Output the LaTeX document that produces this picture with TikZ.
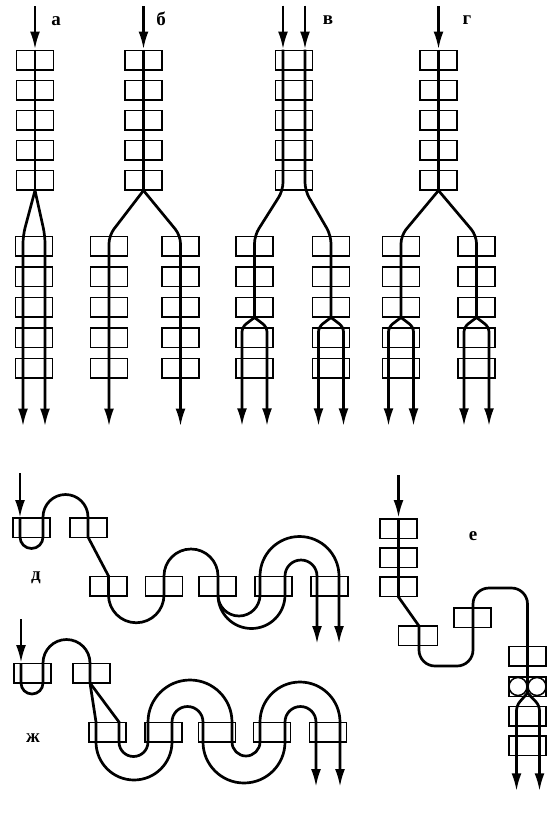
\documentclass[tikz,border=0pt]{standalone}
\usepackage{fontspec}
\setmainfont{Liberation Serif}
\usetikzlibrary{arrows.meta}

\begin{document}
\begin{tikzpicture}[
    x=1pt, y=1pt,
    cage/.style={draw, line width=1.5pt, minimum width=37pt, minimum height=19.5pt, inner sep=0pt},
    galet/.style={draw, circle, line width=1.5pt, minimum size=18pt, inner sep=0pt},
    bande/.style={line width=2.7pt},
    fleche/.style={bande, -{Latex[length=18pt,width=10pt]}},
    lettre/.style={font=\bfseries\fontsize{19}{19}\selectfont, inner sep=0pt},
  ]
  \useasboundingbox (0,0) rectangle (547,-814);

  % cages du haut
  \foreach \p/\x in {a/35, b/143.5, v/294, g/438.5}
    \foreach \i in {1,...,5}
      \node[cage] (\p\i) at (\x,{-30-30*\i}) {};
  \foreach \p/\x in {aa/34, bl/109, br/180.5, vl/254.5, vr/331, gl/401, gr/476.5}
    \foreach \i in {1,...,5}
      \node[cage] (\p\i) at (\x,{-215.5-30.5*\i}) {};

  \coordinate (a0) at (35,-6);
  \coordinate (b0) at (143.5,-6);
  \coordinate (g0) at (438.5,-6);

  % a
  \draw[fleche] (a0) -- (a1.north);
  \draw[bande] (a1.north) -- (a5.south);
  \foreach \dx in {-11,11}
    \draw[fleche, rounded corners=8pt] (a5.south) -- ([xshift=\dx pt]aa1.north) -- ++(0,-191);

  % б
  \draw[fleche] (b0) -- (b1.north);
  \draw[bande] (b1.north) -- (b5.south);
  \foreach \cote in {bl, br}
    \draw[fleche, rounded corners=8pt] (b5.south) -- (\cote1.north) -- ++(0,-191);

  % в
  \foreach \dx/\cote in {-11/vl, 11/vr}
  { \draw[fleche] ([xshift=\dx pt]v1.north) ++(0,44) -- ++(0,-44);
    \draw[bande, rounded corners=8pt] ([xshift=\dx pt]v1.north) -- ([xshift=\dx pt]v5.south)
      -- (\cote1.north) -- (\cote3.south);
    \foreach \dy in {-12.5,12.5}
      \draw[fleche, rounded corners=5pt] (\cote3.south) -- ([xshift=\dy pt]\cote4.north) -- ++(0,-99.25); }

  % г
  \draw[fleche] (g0) -- (g1.north);
  \draw[bande] (g1.north) -- (g5.south);
  \foreach \cote in {gl, gr}
  { \draw[bande, rounded corners=8pt] (g5.south) -- (\cote1.north) -- (\cote3.south);
    \foreach \dy in {-12.5,12.5}
      \draw[fleche, rounded corners=5pt] (\cote3.south) -- ([xshift=\dy pt]\cote4.north) -- ++(0,-99.25); }

  % д
  \foreach \i/\x in {1/31.5, 2/88.5}
    \node[cage] (d\i) at (\x,-527.5) {};
  \foreach \i/\x in {3/108.5, 4/164, 5/217.5, 6/273.5, 7/329.5}
    \node[cage] (d\i) at (\x,-586) {};
  \coordinate (d0) at (20,-473);
  \draw[fleche] (d0) -- ++(0,-45);
  \draw[bande] (20,-518) -- ++(0,-19) arc[start angle=180, end angle=360, radius=11.5]
    -- ++(0,20) arc[start angle=180, end angle=0, radius=22.5]
    -- ++(0,-20) -- (108.5,-576) -- ++(0,-19) arc[start angle=180, end angle=360, radius=27.75]
    -- ++(0,19) arc[start angle=180, end angle=0, radius=27] -- ++(0,-19) coordinate (d5b);
  \draw[fleche] (d5b) arc[start angle=180, end angle=360, radius=21]
    -- ++(0,19) arc[start angle=180, end angle=0, radius=39.5] -- ++(0,-68);
  \draw[fleche] (d5b) arc[start angle=180, end angle=360, radius=33.5]
    -- ++(0,19) arc[start angle=180, end angle=0, radius=16] -- ++(0,-68);

  % ж
  \foreach \i/\x in {1/32.5, 2/91.5}
    \node[cage] (z\i) at (\x,-673) {};
  \foreach \i/\x in {3/107.5, 4/163.5, 5/217, 6/272, 7/328}
    \node[cage] (z\i) at (\x,-732) {};
  \coordinate (z0) at (21,-619);
  \draw[fleche] (z0) -- ++(0,-44);
  \draw[bande] (21,-663) -- ++(0,-20) arc[start angle=180, end angle=360, radius=11]
    -- ++(0,20) arc[start angle=180, end angle=0, radius=23.5] -- ++(0,-20) coordinate (z2b);
  \draw[fleche] (z2b) -- (96,-722) -- ++(0,-20) arc[start angle=180, end angle=360, radius=38]
    -- ++(0,20) arc[start angle=180, end angle=0, radius=15.5]
    -- ++(0,-20) arc[start angle=180, end angle=360, radius=41]
    -- ++(0,20) arc[start angle=180, end angle=0, radius=15.5] -- ++(0,-65);
  \draw[fleche] (z2b) -- (119,-722) -- ++(0,-20) arc[start angle=180, end angle=360, radius=14.5]
    -- ++(0,20) arc[start angle=180, end angle=0, radius=42]
    -- ++(0,-20) arc[start angle=180, end angle=360, radius=14]
    -- ++(0,20) arc[start angle=180, end angle=0, radius=40] -- ++(0,-65);

  % е
  \foreach \i/\y in {1/-528.5, 2/-557.5, 3/-586.5}
    \node[cage] (e\i) at (398.5,\y) {};
  \node[cage, minimum width=39pt] (e4) at (418,-635.5) {};
  \node[cage] (e5) at (472.5,-617.5) {};
  \foreach \i/\y in {6/-656, 7/-686.5, 8/-716, 9/-745.5}
    \node[cage] (e\i) at (527.5,\y) {};
  \node[galet] (r1) at ([xshift=-9.5pt]e7.center) {};
  \node[galet] (r2) at ([xshift=9.5pt]e7.center) {};
  \coordinate (e0) at (398.5,-475);
  \draw[fleche] (e0) -- (e1.north);
  \draw[bande] (e1.north) -- (e3.south) -- (419,-626);
  \draw[bande, rounded corners=16pt] (419,-626) -- (419,-666) -- (473,-666) -- (473,-588)
    -- (527.5,-588) -- (527.5,-694);
  \foreach \dx in {-11,12}
    \draw[fleche, rounded corners=5pt] (527.5,-693) -- ([xshift=\dx pt]e8.north) -- ++(0,-85.75);

  % lettres
  \node[lettre] (la) at (56,-21) {а};
  \node[lettre] (lb) at (161,-19) {б};
  \node[lettre] (lv) at (328,-20) {в};
  \node[lettre] (lg) at (467,-20) {г};
  \node[lettre] (ld) at (36,-578) {д};
  \node[lettre] (le) at (473,-536) {е};
  \node[lettre] (lz) at (33,-738) {ж};
\end{tikzpicture}
\end{document}
